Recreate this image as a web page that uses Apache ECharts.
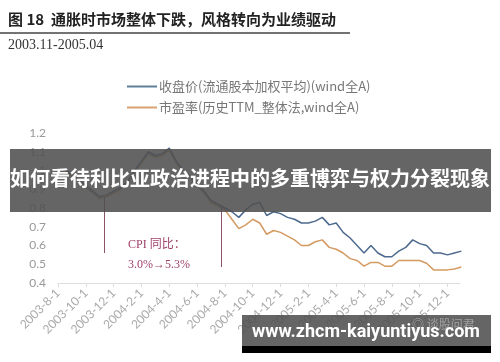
<!DOCTYPE html>
<html><head><meta charset="utf-8">
<script src="https://cdn.jsdelivr.net/npm/echarts@6/dist/echarts.min.js"></script>
<style>html,body{margin:0;padding:0;background:#fff}#c{width:500px;height:362px}</style>
</head><body><div id="c"></div>
<script>
const dates = ["2003-8-1","2003-8-16","2003-9-1","2003-9-16","2003-10-1","2003-10-16","2003-11-1","2003-11-16","2003-12-1","2003-12-16",
"2004-1-1","2004-1-16","2004-2-1","2004-2-16","2004-3-1","2004-3-16","2004-4-1","2004-4-16","2004-5-1","2004-5-16",
"2004-6-1","2004-6-16","2004-7-1","2004-7-16","2004-8-1","2004-8-16","2004-9-1","2004-9-16","2004-10-1","2004-10-16",
"2004-11-1","2004-11-16","2004-12-1","2004-12-16","2005-1-1","2005-1-16","2005-2-1","2005-2-16","2005-3-1","2005-3-16",
"2005-4-1","2005-4-16","2005-5-1","2005-5-16","2005-6-1","2005-6-16","2005-7-1","2005-7-16","2005-8-1","2005-8-16",
"2005-9-1","2005-9-16","2005-10-1","2005-10-16","2005-11-1","2005-11-16","2005-12-1","2005-12-16","2006-1-1"];
const closePrice = [1.00,1.01,0.98,0.95,0.92,0.89,0.86,0.87,0.89,0.91,
0.94,1.00,1.05,1.10,1.08,1.09,1.12,1.05,1.00,0.97,
0.93,0.89,0.84,0.82,0.80,0.78,0.75,0.79,0.82,0.83,
0.76,0.78,0.77,0.75,0.74,0.72,0.72,0.73,0.75,0.71,
0.72,0.67,0.64,0.60,0.56,0.60,0.56,0.54,0.54,0.57,
0.59,0.63,0.61,0.60,0.56,0.56,0.55,0.56,0.57];
const peRatio = [0.99,1.00,0.97,0.94,0.91,0.88,0.85,0.86,0.88,0.90,
0.93,0.99,1.04,1.09,1.07,1.08,1.11,1.04,0.99,0.96,
0.92,0.88,0.83,0.81,0.79,0.74,0.69,0.71,0.74,0.72,
0.66,0.68,0.67,0.65,0.63,0.60,0.60,0.62,0.63,0.59,
0.58,0.56,0.53,0.52,0.49,0.51,0.51,0.49,0.49,0.52,
0.52,0.52,0.52,0.505,0.47,0.47,0.47,0.475,0.485];
const seriesNames = ["收盘价(流通股本加权平均)(wind全A)","市盈率(历史TTM_整体法,wind全A)"];
const yTicks = [0.4,0.5,0.6,0.7,0.8,0.9,1.0,1.1,1.2];
const cpiMarks = [{date:"2003-11-10", top:0.855, bottom:0.56},{date:"2004-7-24", top:0.805, bottom:0.485}];

function monthOffset(s){const p=s.split("-").map(Number);return (p[0]-2003)*12+(p[1]-8)+(p[2]-1)/30;}
function labelFor(v){const t=7+Math.round(v);const y=2003+Math.floor(t/12);const m=t%12+1;return y+"-"+m+"-1";}

const chart = echarts.init(document.getElementById('c'));
chart.setOption({
  backgroundColor:'#fff',
  animation:false,
  legend:{orient:'vertical',left:122,top:75,itemWidth:30,itemHeight:2,icon:'rect',itemGap:8,
    textStyle:{color:'#777',fontSize:13,fontFamily:'Noto Sans CJK SC',padding:[0,0,0,-3]},
    data:seriesNames},
  grid:{left:58,right:40,top:133,bottom:79},
  xAxis:{type:'value',min:0,max:28.9,interval:2,
    axisLine:{lineStyle:{color:'#ddd'}},axisTick:{lineStyle:{color:'#ddd'},length:4},
    splitLine:{show:false},
    axisLabel:{rotate:45,color:'#aaa',fontSize:12,fontFamily:'Lato',margin:8,showMaxLabel:false,formatter:labelFor}},
  yAxis:{type:'value',min:0.4,max:1.2,interval:0.1,
    axisLine:{show:false},axisTick:{show:false},splitLine:{show:false},
    axisLabel:{color:'#999',fontSize:12,fontFamily:'Lato',margin:12,
      formatter:v=>{const r=Math.round(v*10)/10;return r===1?'1':r.toString();}}},
  series:[
    {name:seriesNames[0],type:'line',symbol:'none',z:3,
     lineStyle:{color:'#4d6a8e',width:1.5},itemStyle:{color:'#5e7f96'},
     data:dates.map((d,i)=>[monthOffset(d),closePrice[i]]),
     markLine:{silent:true,symbol:'none',label:{show:false},lineStyle:{color:'#8c5566',width:1,type:'solid'},
       data:cpiMarks.map(c=>[{coord:[monthOffset(c.date),c.top]},{coord:[monthOffset(c.date),c.bottom]}])}},
    {name:seriesNames[1],type:'line',symbol:'none',z:2,
     lineStyle:{color:'#d49a62',width:1.5},itemStyle:{color:'#d9a273'},
     data:dates.map((d,i)=>[monthOffset(d),peRatio[i]])}
  ],
  graphic:[
    {type:'text',left:8,top:12,style:{text:'图 18  通胀时市场整体下跌，风格转向为业绩驱动',fill:'#222',font:'bold 15px "Noto Sans CJK SC"'}},
    {type:'line',shape:{x1:0,y1:33,x2:350,y2:33},style:{stroke:'#444',lineWidth:1.5}},
    {type:'text',left:8,top:38,style:{text:'2003.11-2005.04',fill:'#333',font:'14px "Liberation Serif"'}},
    {type:'text',left:128,top:239,style:{text:'CPI 同比：',fill:'#a0426a',font:'12px "Liberation Serif", "Noto Sans CJK SC"'}},
    {type:'text',left:128,top:259,style:{text:'3.0%→5.3%',fill:'#a0426a',font:'12px "Liberation Serif"'}},
    {type:'rect',z:100,shape:{x:10,y:149,width:481,height:63},style:{fill:'rgba(80,80,80,0.88)'}},
    {type:'text',z:101,left:'center',top:168,style:{text:'如何看待利比亚政治进程中的多重博弈与权力分裂现象',fill:'#fff',font:'bold 20px "Noto Sans CJK SC"'}},
    {type:'rect',z:100,shape:{x:242,y:315,width:249,height:31},style:{fill:'rgba(80,80,80,0.88)'}},
    {type:'rect',z:100,shape:{x:242,y:346,width:249,height:7},style:{fill:'#000'}},
    {type:'text',z:101,left:412,top:318,style:{text:'◎ 谈股问君',fill:'rgba(200,200,200,0.6)',font:'12px "Noto Sans CJK SC"'}},
    {type:'text',z:102,left:252,top:323,style:{text:'www.zhcm-kaiyuntiyus.com',fill:'#fff',font:'bold 18px Roboto'}}
  ]
});
</script></body></html>
